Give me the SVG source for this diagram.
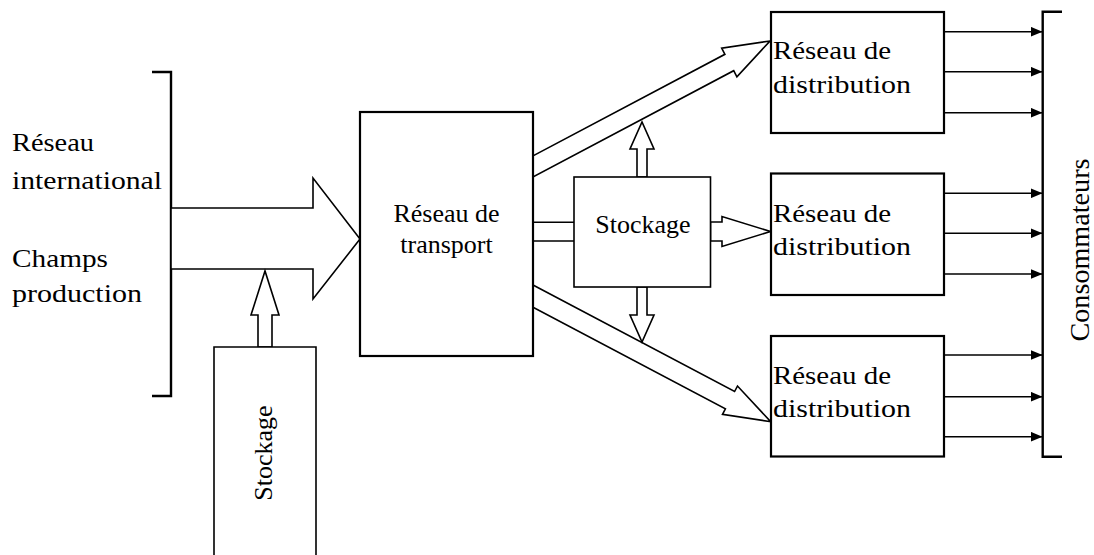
<svg xmlns="http://www.w3.org/2000/svg" width="1094" height="555" viewBox="0 0 1094 555">
  <defs>
    <style>
      .box { fill: #fff; stroke: #000; stroke-width: 2.2; }
      .thin { fill: #fff; stroke: #000; stroke-width: 1.6; stroke-linejoin: miter; }
      .line { fill: none; stroke: #000; stroke-width: 1.6; }
      .brk { fill: none; stroke: #000; stroke-width: 2.4; }
      .feed { fill: none; stroke: #000; stroke-width: 1.5; marker-end: url(#tip); }
      .pal { font-family: "Liberation Serif", "Times New Roman", serif; font-size: 26px; fill: #000; }
      .tms { font-family: "Liberation Serif", "Times New Roman", serif; font-size: 26px; fill: #000; }
    </style>
    <marker id="tip" markerUnits="userSpaceOnUse" markerWidth="12" markerHeight="10" refX="12" refY="5" orient="auto">
      <path d="M0,0 L12,5 L0,10 Z" fill="#000"/>
    </marker>
  </defs>

  <rect width="1094" height="555" fill="#fff"/>

  <!-- supply labels and bracket -->
  <g id="sources">
    <path class="brk" d="M152,72 H171 V396 H152"/>
    <text class="pal" x="12" y="151" textLength="82" lengthAdjust="spacingAndGlyphs">Réseau</text>
    <text class="pal" x="12" y="189" textLength="150" lengthAdjust="spacingAndGlyphs">international</text>
    <text class="pal" x="12" y="267" textLength="96" lengthAdjust="spacingAndGlyphs">Champs</text>
    <text class="pal" x="12" y="302" textLength="130" lengthAdjust="spacingAndGlyphs">production</text>
  </g>

  <!-- flow arrows -->
  <g id="connectors">
    <polygon class="thin" points="171,208 313,208 313,178 360,239 313,299 313,269 171,269"/>
    <polygon class="thin" points="258,347 258,315 251,315 265,271 279,315 272,315 272,347"/>
    <polygon class="thin" points="533,155.9 724.9,54.3 721.7,48.1 770,41 736.9,76.9 733.7,70.7 533,177"/>
    <polygon class="thin" points="533,285 734.6,391.5 737.5,386 770.7,421.7 722.5,414.3 725.4,408.9 533,307.3"/>
    <polygon class="thin" points="637,177 637,149 630,149 642,122 654,149 647,149 647,177"/>
    <polygon class="thin" points="637,287 637,315 630,315 642,342 654,315 647,315 647,287"/>
    <polygon class="thin" points="710.5,222 722,222 722,216.5 770.5,231.5 722,246.5 722,241 710.5,241"/>
    <path class="line" d="M533,222.3 H574 M533,241 H574"/>
    <line class="feed" x1="944" y1="31.7" x2="1042.5" y2="31.7"/>
    <line class="feed" x1="944" y1="71.7" x2="1042.5" y2="71.7"/>
    <line class="feed" x1="944" y1="112.7" x2="1042.5" y2="112.7"/>
    <line class="feed" x1="944" y1="193.3" x2="1042.5" y2="193.3"/>
    <line class="feed" x1="944" y1="233.3" x2="1042.5" y2="233.3"/>
    <line class="feed" x1="944" y1="274" x2="1042.5" y2="274"/>
    <line class="feed" x1="944" y1="355" x2="1042.5" y2="355"/>
    <line class="feed" x1="944" y1="396.7" x2="1042.5" y2="396.7"/>
    <line class="feed" x1="944" y1="436.7" x2="1042.5" y2="436.7"/>
  </g>

  <!-- storage feeding the input -->
  <g id="stockage-amont">
    <path class="thin" d="M214,560 V347 H316 V560"/>
    <text class="tms" transform="translate(271.5,453) rotate(-90)" text-anchor="middle">Stockage</text>
  </g>

  <g id="transport">
    <rect class="box" x="360" y="112" width="173" height="244"/>
    <text class="tms" x="446.5" y="222" text-anchor="middle">Réseau de</text>
    <text class="tms" x="446.5" y="253" text-anchor="middle">transport</text>
  </g>

  <g id="stockage">
    <rect class="thin" x="574" y="177" width="136.5" height="110"/>
    <text class="tms" x="643" y="232.5" text-anchor="middle">Stockage</text>
  </g>

  <g id="distribution-1">
    <rect class="box" x="771" y="12" width="173" height="121"/>
    <text class="pal" x="773" y="59" textLength="118" lengthAdjust="spacingAndGlyphs">Réseau de</text>
    <text class="pal" x="773" y="93" textLength="138" lengthAdjust="spacingAndGlyphs">distribution</text>
  </g>

  <g id="distribution-2">
    <rect class="box" x="771" y="173.5" width="173" height="121.5"/>
    <text class="pal" x="773" y="221.5" textLength="118" lengthAdjust="spacingAndGlyphs">Réseau de</text>
    <text class="pal" x="773" y="254.5" textLength="138" lengthAdjust="spacingAndGlyphs">distribution</text>
  </g>

  <g id="distribution-3">
    <rect class="box" x="771" y="336" width="173" height="120.5"/>
    <text class="pal" x="773" y="383.5" textLength="118" lengthAdjust="spacingAndGlyphs">Réseau de</text>
    <text class="pal" x="773" y="416.5" textLength="138" lengthAdjust="spacingAndGlyphs">distribution</text>
  </g>

  <g id="consommateurs">
    <path class="brk" d="M1062,11.7 H1042.7 V456.7 H1062"/>
    <text class="pal" style="font-size:27px" transform="translate(1088.5,250) rotate(-90)" text-anchor="middle" textLength="183" lengthAdjust="spacingAndGlyphs">Consommateurs</text>
  </g>
</svg>
